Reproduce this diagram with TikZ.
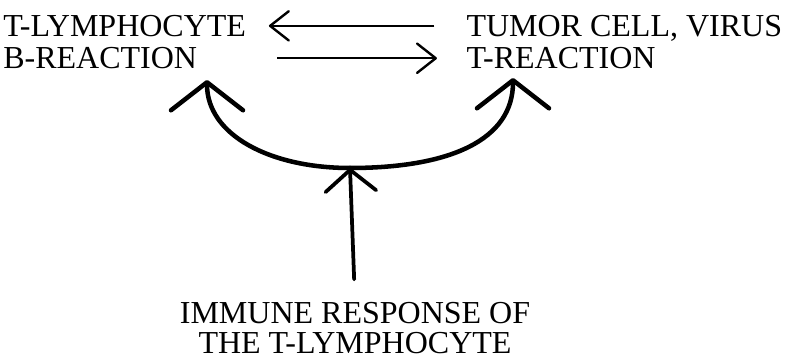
\documentclass[tikz,border=0pt]{standalone}
\usepackage{fontspec}
\setmainfont{Liberation Serif}
\usetikzlibrary{arrows.meta, positioning}

\begin{document}
\begin{tikzpicture}[x=0.75pt, y=-0.75pt, txt/.style={inner sep=0pt, text depth=0pt, font=\fontsize{24pt}{22.5pt}\selectfont}, arrow/.style={-{Straight Barb[length=14pt, width=22pt, round]}, line width=1.8pt}, bigarrow/.style={-{Straight Barb[length=21pt, width=54pt, round]}, line width=3.4pt, line cap=round}, uparrow/.style={-{Straight Barb[length=16pt, width=38pt, round]}, line width=2.8pt, line cap=round}]

\useasboundingbox (0,0) rectangle (804,360);

\node[txt, anchor=north west] (tlym) at (3,15) {T-LYMPHOCYTE};
\node[txt, below right=8pt and 0pt of tlym.south west] (breact) {B-REACTION};
\node[txt, right=165pt of tlym] (tumor) {TUMOR CELL, VIRUS};
\node[txt, below right=8pt and 0pt of tumor.south west] (treact) {T-REACTION};
\node[txt, align=center, anchor=north] (immune) at (355,302) {IMMUNE RESPONSE OF\\THE T-LYMPHOCYTE};

\coordinate (junc) at (350,168);
\coordinate (ltip) at (207,80);
\coordinate (rtip) at (513,78);

\draw[arrow, shorten <=24pt, shorten >=17pt] (tumor.west) -- (tlym.east);
\draw[arrow, shorten <=60pt, shorten >=22pt] (breact.east) -- (treact.west);
\draw[bigarrow] (junc) .. controls (270,168) and (207,135) .. (ltip);
\draw[bigarrow] (junc) .. controls (450,168) and (513,140) .. (rtip);
\draw[uparrow, shorten <=17pt] (immune.north) -- (junc);

\end{tikzpicture}
\end{document}
